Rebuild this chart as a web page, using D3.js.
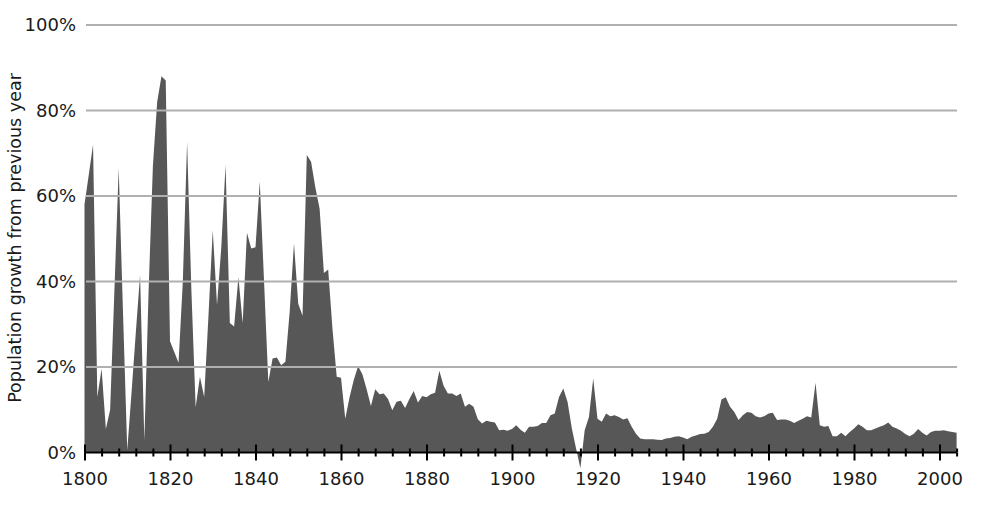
<!DOCTYPE html>
<html>
<head>
<meta charset="utf-8">
<script src="https://cdn.jsdelivr.net/npm/d3@7"></script>
<style>
  html, body { margin: 0; padding: 0; background: #fff; }
  svg { display: block; font-family: "DejaVu Sans", sans-serif; }
</style>
</head>
<body>
<svg id="chart" width="982" height="512"></svg>
<script>
// ---- data ----
const startYear = 1800;
const growth = [
  58, 65, 72, 13, 19.6, 5.5, 10, 38, 66.5, 33,          // 1800-1809
  0.5, 14, 28, 41.5, 2.8, 38, 67, 82, 88, 87,           // 1810-1819
  26, 23.5, 21, 40, 72.7, 38, 10.6, 17.7, 13, 32,       // 1820-1829
  52, 34.5, 48, 67.3, 30.3, 29.5, 41, 30.3, 51.4, 47.7, // 1830-1839
  48, 63.4, 40, 16.5, 22, 22.2, 20.4, 21.2, 33, 48.9,   // 1840-1849
  34.8, 32, 69.6, 68, 62, 57, 42, 42.8, 29, 17.7,       // 1850-1859
  17.5, 7.9, 12.9, 17, 20.2, 18.3, 14.8, 10.9, 14.8, 13.6, // 1860-1869
  13.8, 12.5, 9.9, 11.9, 12.1, 10.4, 12.5, 14.4, 11.7, 13.2, // 1870-1879
  12.9, 13.6, 14, 19.1, 15.6, 13.8, 13.8, 13.2, 13.8, 10.7, // 1880-1889
  11.4, 10.7, 7.8, 6.8, 7.4, 7.2, 7, 5.2, 5.3, 5.1,     // 1890-1899
  5.5, 6.4, 5.3, 4.6, 6, 6, 6.2, 6.9, 6.9, 8.7,         // 1900-1909
  9.1, 13, 15, 11.8, 5.6, 0.9, -3.7, 5.2, 8.3, 17.3,    // 1910-1919
  7.9, 7.2, 9.1, 8.5, 8.7, 8.3, 7.7, 8, 6, 4.4,         // 1920-1929
  3.3, 3.1, 3.1, 3.1, 3, 2.9, 3.3, 3.4, 3.7, 3.8,       // 1930-1939
  3.5, 3.1, 3.7, 4, 4.3, 4.4, 4.8, 6, 7.9, 12.4,        // 1940-1949
  12.9, 10.7, 9.5, 7.6, 8.7, 9.5, 9.3, 8.5, 8.2, 8.5,   // 1950-1959
  9.1, 9.3, 7.6, 7.7, 7.7, 7.4, 6.9, 7.4, 7.9, 8.5,     // 1960-1969
  8.2, 16.3, 6.4, 6, 6.2, 3.8, 3.8, 4.6, 3.8, 4.8,      // 1970-1979
  5.6, 6.6, 6, 5.2, 5.2, 5.6, 6, 6.4, 7, 6,             // 1980-1989
  5.6, 5.1, 4.3, 3.8, 4.4, 5.5, 4.6, 4, 4.8, 5.1,       // 1990-1999
  5.1, 5.2, 5, 4.8, 4.6                                  // 2000-2004
];
const yTicks = [0, 20, 40, 60, 80, 100];
const xMajorTicks = [1800, 1820, 1840, 1860, 1880, 1900, 1920, 1940, 1960, 1980, 2000];
const xMinorTicks = d3.range(1800, 2005, 4).filter(v => v % 20 !== 0);
const yTitle = "Population growth from previous year";

const data = growth.map((v, i) => ({ year: startYear + i, value: v }));

// ---- layout ----
const svg = d3.select("#chart");
const x = d3.scaleLinear().domain([1800, 2004]).range([84.5, 956.6]);
const y = d3.scaleLinear().domain([0, 100]).range([452.5, 25]);
const axisY = y(0);

// area
const area = d3.area()
  .x(d => x(d.year))
  .y0(y(0))
  .y1(d => y(d.value));
svg.append("path")
  .datum(data)
  .attr("d", area)
  .attr("fill", "#575757");

// gridlines (drawn over the area)
svg.append("g")
  .selectAll("line")
  .data(yTicks.filter(t => t > 0))
  .join("line")
  .attr("x1", 86).attr("x2", 957)
  .attr("y1", d => y(d)).attr("y2", d => y(d))
  .attr("stroke", "#b0b0b0")
  .attr("stroke-width", 2);

// y labels
const yAxis = d3.axisLeft(y).tickValues(yTicks).tickFormat(d => d + "%").tickSize(0).tickPadding(10);
const gy = svg.append("g").attr("transform", "translate(86,0)").call(yAxis);
gy.select(".domain").remove();
gy.selectAll("text").attr("font-size", 18).attr("fill", "#1a1a1a")
  .attr("font-family", "DejaVu Sans, sans-serif");

// x axis: major ticks crossing the line
function tickAxis(axisFn, vals, size) {
  const g = svg.append("g").attr("transform", `translate(0,${axisY})`)
    .call(axisFn(x).tickValues(vals).tickSize(size).tickFormat(""));
  g.select(".domain").remove();
  g.selectAll("line").attr("stroke", "#000").attr("stroke-width", 2);
  return g;
}
tickAxis(d3.axisBottom, xMajorTicks, 8);
tickAxis(d3.axisTop, xMajorTicks, 8);
tickAxis(d3.axisBottom, xMinorTicks, 4);
tickAxis(d3.axisTop, xMinorTicks, 4);

// axis line
svg.append("line")
  .attr("x1", x(1800)).attr("x2", x(2004))
  .attr("y1", axisY).attr("y2", axisY)
  .attr("stroke", "#000").attr("stroke-width", 2);

// x labels
const gxl = svg.append("g").attr("transform", `translate(0,${axisY})`)
  .call(d3.axisBottom(x).tickValues(xMajorTicks).tickFormat(d3.format("d")).tickSize(0).tickPadding(20));
gxl.select(".domain").remove();
gxl.selectAll("text").attr("font-size", 18).attr("fill", "#1a1a1a")
  .attr("font-family", "DejaVu Sans, sans-serif").attr("dy", "0.71em");

// y title
svg.append("text")
  .attr("transform", `translate(21,238) rotate(-90)`)
  .attr("text-anchor", "middle")
  .attr("font-size", 17.5)
  .attr("fill", "#1a1a1a")
  .text(yTitle);
</script>
</body>
</html>
